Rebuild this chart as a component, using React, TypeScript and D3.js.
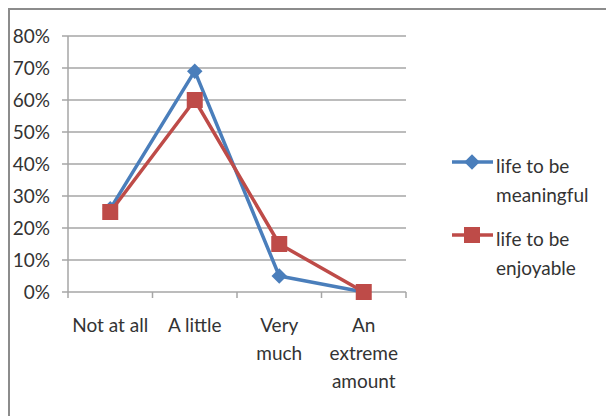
import React from "react";
import * as d3 from "d3";

const categories = [["Not at all"], ["A little"], ["Very", "much"], ["An", "extreme", "amount"]];
const meaningful = [0.26, 0.69, 0.05, 0.0];
const enjoyable = [0.25, 0.6, 0.15, 0.0];
const yTicks = [0, 0.1, 0.2, 0.3, 0.4, 0.5, 0.6, 0.7, 0.8];
const seriesNames = [["life to be", "meaningful"], ["life to be", "enjoyable"]];

const BLUE = "#4a7ebb";
const RED = "#be4b48";
const FONT = "Lato, 'Open Sans', sans-serif";
const FS = 19;
const TXT = "#333";

export default function App() {
  const W = 606, H = 416;
  const plotL = 68, plotR = 406, plotT = 36, plotB = 292;
  const x = d3.scaleBand<number>().domain(d3.range(categories.length)).range([plotL, plotR]);
  const y = d3.scaleLinear().domain([0, 0.8]).range([plotB, plotT]);
  const cx = (i: number) => (x(i) as number) + x.bandwidth() / 2;
  const line = d3.line<number>().x((_, i) => cx(i)).y((d) => y(d));
  const fmt = d3.format(".0%");

  return (
    <svg width={W} height={H} style={{ position: "absolute", left: 0, top: 0 }}>
      <rect x={0} y={0} width={W} height={H} fill="#fff" />
      <rect x={9} y={9} width={W + 10} height={H + 10} fill="none" stroke="#8c8c8c" strokeWidth={2} />
      {yTicks.map((t) => (
        <g key={t}>
          <line x1={62} x2={plotR} y1={y(t)} y2={y(t)} stroke="#a6a6a6" strokeWidth={1.5} />
          <text x={50} y={y(t) + 7} textAnchor="end" fontFamily={FONT} fontSize={FS} fill={TXT}>
            {fmt(t)}
          </text>
        </g>
      ))}
      <line x1={plotL} x2={plotL} y1={plotT} y2={plotB} stroke="#a6a6a6" strokeWidth={1.5} />
      {d3.range(categories.length + 1).map((i) => {
        const xx = i < categories.length ? (x(i) as number) : plotR;
        return <line key={i} x1={xx} x2={xx} y1={plotB} y2={plotB + 6} stroke="#a6a6a6" strokeWidth={1.5} />;
      })}
      {categories.map((lines, i) => (
        <text key={i} textAnchor="middle" fontFamily={FONT} fontSize={FS} fill={TXT}>
          {lines.map((l, j) => (
            <tspan key={j} x={cx(i)} y={332 + j * 28}>{l}</tspan>
          ))}
        </text>
      ))}
      <path d={line(meaningful) || ""} fill="none" stroke={BLUE} strokeWidth={3.5} strokeLinejoin="round" />
      <path d={line(enjoyable) || ""} fill="none" stroke={RED} strokeWidth={3.5} strokeLinejoin="round" />
      {meaningful.map((v, i) => (
        <rect key={i} x={cx(i) - 5.5} y={y(v) - 5.5} width={11} height={11} fill={BLUE}
          transform={`rotate(45 ${cx(i)} ${y(v)})`} />
      ))}
      {enjoyable.map((v, i) => (
        <rect key={i} x={cx(i) - 8} y={y(v) - 8} width={16} height={16} fill={RED} />
      ))}
      {seriesNames.map((lines, k) => {
        const ly = k === 0 ? 162 : 235;
        const c = k === 0 ? BLUE : RED;
        return (
          <g key={k}>
            <line x1={452} x2={493} y1={ly} y2={ly} stroke={c} strokeWidth={3.5} />
            {k === 0 ? (
              <rect x={466.5} y={ly - 5.5} width={11} height={11} fill={c} transform={`rotate(45 472 ${ly})`} />
            ) : (
              <rect x={464} y={ly - 8} width={16} height={16} fill={c} />
            )}
            <text fontFamily={FONT} fontSize={FS} fill={TXT}>
              {lines.map((l, j) => (
                <tspan key={j} x={496} y={ly + 11 + j * 29}>{l}</tspan>
              ))}
            </text>
          </g>
        );
      })}
    </svg>
  );
}
